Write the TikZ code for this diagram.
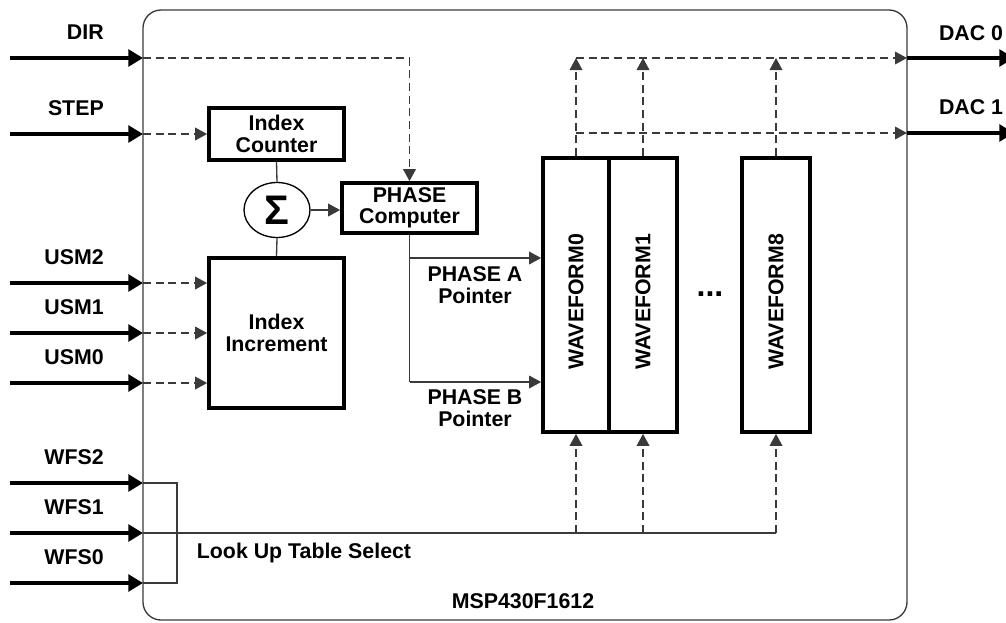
\documentclass[tikz,border=0pt]{standalone}
\usepackage{fontspec}
\setmainfont{Liberation Sans}
\usetikzlibrary{arrows.meta,shapes.geometric}
\definecolor{ln}{HTML}{3A3A3A}
\begin{document}
\begin{tikzpicture}[x=0.75pt,y=-0.75pt,
  lbl/.style={font=\fontsize{16}{16}\selectfont\bfseries, align=center, inner sep=0pt},
  blk/.style={draw=black, line width=2.8pt, inner sep=0pt},
  wfbox/.style={blk, minimum width=49.5pt, minimum height=205.5pt},
  bigarr/.style={line width=2.8pt, -{Triangle[length=11pt,width=12.5pt]}},
  thinln/.style={draw=ln, line width=1pt},
  dsh/.style={draw=ln, line width=1pt, dash pattern=on 6pt off 3.5pt},
  tip/.style={-{Triangle[length=9pt,width=9.5pt]}},
]
\useasboundingbox (0,0) rectangle (1006,622);

% chip frame
\node[draw=ln, line width=1pt, rounded corners=13.5pt, minimum width=573pt, minimum height=457.5pt, inner sep=0pt] (chip) at (525,315) {};
\node[lbl] (chipname) at (523,601) {MSP430F1612};

% blocks
\node[blk, lbl, minimum width=101.25pt, minimum height=39pt] (ic) at (276.5,134) {Index\\Counter};
\node[blk, lbl, minimum width=101.25pt, minimum height=112.5pt] (ii) at (276.5,333) {Index\\Increment};
\node[blk, lbl, minimum width=101.25pt, minimum height=37.5pt] (phase) at (409.5,208) {PHASE\\Computer};
\node[draw=black, line width=1pt, ellipse, minimum width=49.5pt, minimum height=41.25pt, inner sep=0pt,
      font=\fontsize{31}{31}\selectfont\bfseries] (sig) at (277,210) {Σ};

\node[wfbox] (wf0) at (576,295) {};
\node[wfbox, minimum width=51pt] (wf1) at (643,295) {};
\node[wfbox, minimum width=51pt] (wf8) at (776,295) {};
\node[lbl, rotate=90] (wf0t) at (576,302) {WAVEFORM0};
\node[lbl, rotate=90] (wf1t) at (643,302) {WAVEFORM1};
\node[lbl, rotate=90] (wf8t) at (776,302) {WAVEFORM8};
\node[lbl, font=\fontsize{24}{24}\selectfont\bfseries] (dots) at (710,294) {...};

% inputs
\foreach \n/\y/\t in {dir/58/DIR, step/134/STEP, usmb/283/USM2, usma/333/USM1, usmz/383/USM0,
                      wfsb/483/WFS2, wfsa/533/WFS1, wfsz/583/WFS0} {
  \coordinate (\n src) at (10,\y);
  \coordinate (\n in) at (143,\y);
  \draw[bigarr] (\n src) -- (\n in);
  \node[lbl, anchor=east] (\n lbl) at (104,\y-26) {\t};
}

% outputs
\coordinate (d0) at (907,58);
\coordinate (d1) at (907,133);
\coordinate (d0out) at (1014,58);
\coordinate (d1out) at (1014,133);
\draw[bigarr] (d0) -- (d0out);
\draw[bigarr] (d1) -- (d1out);
\node[lbl] (d0lbl) at (971,33) {DAC 0};
\node[lbl] (d1lbl) at (971,107) {DAC 1};

% dashed control lines
\draw[dsh, tip] (dirin) -| (phase.north);
\draw[dsh, tip] (stepin) -- (ic.west);
\draw[dsh, tip] (usmbin) -- (ii.west |- usmbin);
\draw[dsh, tip] (usmain) -- (ii.west |- usmain);
\draw[dsh, tip] (usmzin) -- (ii.west |- usmzin);

% sum
\draw[thinln] (ic.south) -- (sig.north);
\draw[thinln] (sig.south) -- (ii.north);
\draw[thinln, tip] (sig.east) -- (phase.west |- sig.east);

% phase pointers
\coordinate (pa) at (409.5,258);
\coordinate (pb) at (409.5,382);
\draw[thinln] (phase.south) -- (pb);
\draw[thinln, tip] (pa) -- (wf0.west |- pa);
\draw[thinln, tip] (pb) -- (wf0.west |- pb);
\node[lbl] (palbl) at (475,285) {PHASE A\\Pointer};
\node[lbl] (pblbl) at (475,408) {PHASE B\\Pointer};

% waveform outputs to DAC
\draw[dsh, tip] (wf0.north) -- (wf0.north |- d0);
\draw[dsh, tip] (wf1.north) -- (wf1.north |- d0);
\draw[dsh, tip] (wf8.north) -- (wf8.north |- d0);
\draw[dsh, tip] (wf0.north |- d0) -- (d0);
\draw[dsh, tip] (wf0.north |- d1) -- (d1);

% look up table select
\draw[thinln] (wfsbin) -- ++(34,0) |- (wfszin);
\draw[thinln] (wfsain) -- (wf8.south |- wfsain);
\draw[dsh, tip] (wf0.south |- wfsain) -- (wf0.south);
\draw[dsh, tip] (wf1.south |- wfsain) -- (wf1.south);
\draw[dsh, tip] (wf8.south |- wfsain) -- (wf8.south);
\node[lbl] (lut) at (304,553) {Look Up Table Select};
\end{tikzpicture}
\end{document}
